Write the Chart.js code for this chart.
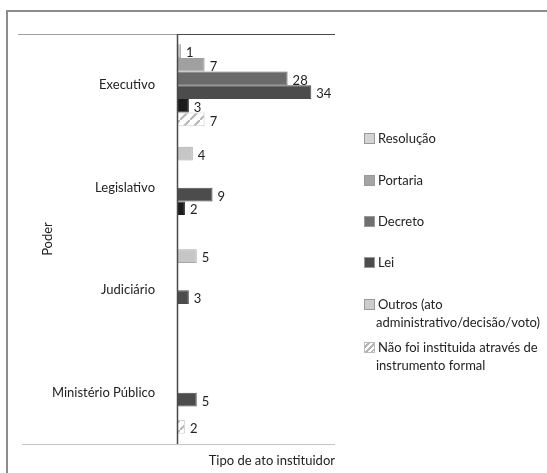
<!DOCTYPE html>
<html>
<head>
<meta charset="utf-8">
<script src="https://cdn.jsdelivr.net/npm/chart.js@4.4.1/dist/chart.umd.min.js"></script>
<style>
    body { margin: 0; background: #fff; font-family: Lato, "Open Sans", sans-serif; }
    #wrap { position: relative; width: 547px; height: 473px; overflow: hidden; }
    #frame { position: absolute; left: 6px; top: 10px; width: 600px; height: 500px; border: 2px solid #8c8c8c; }
    #chart { position: absolute; left: 0; top: 0; }
    #legend { position: absolute; left: 364px; top: 0; font-size: 13px; color: #222; }
    .item { position: absolute; left: 0; white-space: nowrap; line-height: 18px; }
    .sw { display: inline-block; width: 9px; height: 9px; margin-right: 3px; vertical-align: -1px; }
    .sub { padding-left: 12px; }
</style>
</head>
<body>
<div id="wrap">
    <div id="frame"></div>
    <canvas id="chart" width="547" height="473"></canvas>
    <div id="legend"></div>
</div>
<script>
// Categorias (eixo y)
var Poderes = ['Executivo', 'Legislativo', 'Judiciário', 'Ministério Público'];
// Séries
var Resolucao = [1, 4, 5, 0];
var Portaria = [7, 0, 0, 0];
var Decreto = [28, 0, 0, 0];
var Lei = [34, 9, 3, 5];
var Outros = [3, 2, 0, 0];
var NaoFoi = [7, 0, 0, 2];
var xMax = 40;

// Padrão tracejado para "Não foi instituida..."
function hatch() {
    var c = document.createElement('canvas');
    c.width = 10; c.height = 10;
    var g = c.getContext('2d');
    g.fillStyle = '#ffffff';
    g.fillRect(0, 0, 10, 10);
    g.strokeStyle = '#b4b4b4';
    g.lineWidth = 2;
    g.beginPath();
    g.moveTo(0, 10); g.lineTo(10, 0);
    g.stroke();
    return g.createPattern(c, 'repeat');
}

var series = [
    { label: 'Resolução', data: Resolucao, bg: '#c6c6c6', bd: '#a8a8a8', sw: '#d4d4d4' },
    { label: 'Portaria', data: Portaria, bg: '#a0a0a0', bd: '#a0a0a0', sw: '#a4a4a4' },
    { label: 'Decreto', data: Decreto, bg: '#6a6a6a', bd: '#6a6a6a', sw: '#707070' },
    { label: 'Lei', data: Lei, bg: '#4c4c4c', bd: '#4c4c4c', sw: '#4c4c4c' },
    { label: 'Outros (ato administrativo/decisão/voto)', data: Outros, bg: '#1c1c1c', bd: '#1c1c1c', sw: '#cccccc' },
    { label: 'Não foi instituida através de instrumento formal', data: NaoFoi, bg: hatch(), bd: '#cfcfcf', sw: null }
];

var datasets = series.map(function (s) {
    return {
        label: s.label,
        data: s.data,
        backgroundColor: s.bg,
        borderColor: s.bd,
        borderWidth: 1,
        categoryPercentage: 0.8,
        barPercentage: 1.0
    };
});

// Rótulos de valor e linhas do eixo
var extras = {
    id: 'extras',
    afterDatasetsDraw: function (chart) {
        var ctx = chart.ctx;
        ctx.save();
        ctx.font = '13px Lato, "Open Sans", sans-serif';
        ctx.fillStyle = '#222';
        ctx.textBaseline = 'middle';
        chart.data.datasets.forEach(function (ds, i) {
            chart.getDatasetMeta(i).data.forEach(function (bar, j) {
                var v = ds.data[j];
                if (!v) return;
                ctx.fillText(String(v), bar.x + 5, bar.y + 2);
            });
        });
        ctx.restore();
    },
    afterDraw: function (chart) {
        var a = chart.chartArea, ctx = chart.ctx;
        ctx.save();
        ctx.lineWidth = 1;
        ctx.strokeStyle = '#a0a0a0';
        ctx.beginPath(); ctx.moveTo(18, a.top + 0.5); ctx.lineTo(a.left, a.top + 0.5); ctx.stroke();
        ctx.strokeStyle = '#c4c4c4';
        ctx.beginPath(); ctx.moveTo(22, a.bottom + 0.5); ctx.lineTo(a.right, a.bottom + 0.5); ctx.stroke();
        ctx.strokeStyle = '#4a4a4a';
        ctx.beginPath(); ctx.moveTo(a.left, a.top + 0.5); ctx.lineTo(a.right, a.top + 0.5); ctx.stroke();
        ctx.lineWidth = 1.5;
        ctx.beginPath(); ctx.moveTo(a.left + 0.5, a.top); ctx.lineTo(a.left + 0.5, a.bottom); ctx.stroke();
        ctx.restore();
    }
};

new Chart(document.getElementById('chart').getContext('2d'), {
    type: 'bar',
    data: { labels: Poderes, datasets: datasets },
    options: {
        indexAxis: 'y',
        responsive: false,
        animation: false,
        layout: { padding: { left: 40, right: 212, top: 34, bottom: 0 } },
        plugins: { legend: { display: false }, tooltip: { enabled: false } },
        scales: {
            x: {
                min: 0, max: xMax,
                ticks: { display: false },
                grid: { display: false },
                border: { display: false },
                title: {
                    display: true, text: 'Tipo de ato instituidor', color: '#222', align: 'end',
                    font: { family: 'Lato', size: 13 }, padding: { top: 6, bottom: 4 }
                },
                afterFit: function (s) { s.height = 29; }
            },
            y: {
                ticks: { color: '#222', font: { family: 'Lato', size: 13 }, padding: 14 },
                grid: { display: false },
                border: { display: false },
                title: {
                    display: true, text: 'Poder', color: '#222',
                    font: { family: 'Lato', size: 13 }, padding: 0
                },
                afterFit: function (s) { s.width = 137; }
            }
        }
    },
    plugins: [extras]
});

// Legenda em HTML
var tops = [129, 171, 212, 253, 295, 338];
var leg = document.getElementById('legend');
series.forEach(function (s, i) {
    var d = document.createElement('div');
    d.className = 'item';
    d.style.top = tops[i] + 'px';
    var sw = '<span class="sw" style="background:' + (s.sw || 'repeating-linear-gradient(135deg,#fff 0 2px,#b4b4b4 2px 4px)') + ';border:1px solid ' + (s.sw ? '#999' : '#bbb') + '"></span>';
    var parts = i < 4
        ? [s.label]
        : (i === 4 ? ['Outros (ato', 'administrativo/decisão/voto)'] : ['Não foi instituida através de', 'instrumento formal']);
    d.innerHTML = sw + parts[0] + (parts[1] ? '<br><span class="sub">' + parts[1] + '</span>' : '');
    leg.appendChild(d);
});
</script>
</body>
</html>
